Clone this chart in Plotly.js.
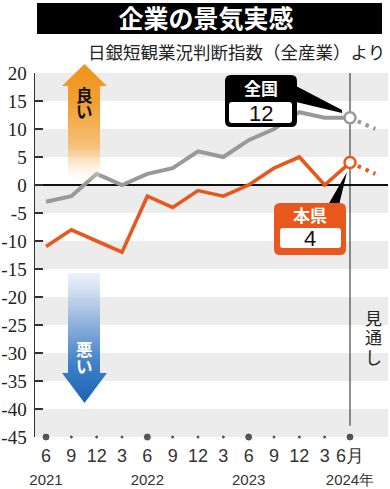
<!DOCTYPE html>
<html>
<head>
<meta charset="utf-8">
<script src="https://cdn.plot.ly/plotly-3.0.1.min.js"></script>
<style>html,body{margin:0;padding:0;background:#fff;}#chart{width:390px;height:489px;}</style>
</head>
<body>
<div id="chart"></div>
<script>
// ---- data ----
const quarters = ["2021-06","2021-09","2021-12","2022-03","2022-06","2022-09","2022-12","2023-03","2023-06","2023-09","2023-12","2024-03","2024-06","2024-09"];
const monthLabels = ["6","9","12","3","6","9","12","3","6","9","12","3","6月"];
const yearLabels = ["2021","","","","2022","","","","2023","","","","2024年"];
const national = [-3,-2,2,0,2,3,6,5,8,10,13,12,12];
const prefecture = [-11,-8,-10,-12,-2,-4,-1,-2,0,3,5,0,4];
const outlookQuarters = ["2024-06","2024-09"];
const nationalOutlook = [12,10];
const prefectureOutlook = [4,2];
const yTicks = [20,15,10,5,0,-5,-10,-15,-20,-25,-30,-35,-40,-45];
const seriesNames = ["全国","本県"];

// ---- layout helpers ----
const W = 390, H = 489;
const M = {l:35, r:2, t:73, b:52};
const PW = W - M.l - M.r, PH = H - M.t - M.b;
const px = x => (x - M.l) / PW;
const py = y => (H - M.b - y) / PH;
function rrect(x0,y0,x1,y1,r){
  const rx = r/PW, ry = r/PH;
  const X0=px(x0),X1=px(x1),Y0=py(y0),Y1=py(y1);
  return `M${X0+rx},${Y0} L${X1-rx},${Y0} Q${X1},${Y0} ${X1},${Y0-ry} L${X1},${Y1+ry} Q${X1},${Y1} ${X1-rx},${Y1} L${X0+rx},${Y1} Q${X0},${Y1} ${X0},${Y1+ry} L${X0},${Y0-ry} Q${X0},${Y0} ${X0+rx},${Y0} Z`;
}
function poly(pts){
  return 'M' + pts.map(p => px(p[0]) + ',' + py(p[1])).join(' L') + ' Z';
}

const GREY = '#999999', ORANGE = '#e8581c';
const yMin = yTicks[yTicks.length-1], yMax = yTicks[0];
const lastIdx = national.length - 1;
const mainQuarters = quarters.slice(0, national.length);

const traces = [
  {x: mainQuarters, y: national, mode:'lines', line:{color:GREY, width:4}, name:seriesNames[0], hoverinfo:'skip'},
  {x: mainQuarters, y: prefecture, mode:'lines', line:{color:ORANGE, width:3.6}, name:seriesNames[1], hoverinfo:'skip'},
  {x: outlookQuarters, y: nationalOutlook, mode:'lines', line:{color:GREY, width:4, dash:'3.5px,5px'}, hoverinfo:'skip'},
  {x: outlookQuarters, y: prefectureOutlook, mode:'lines', line:{color:ORANGE, width:4, dash:'3.5px,5px'}, hoverinfo:'skip'},
  {x: [mainQuarters[lastIdx]], y: [national[lastIdx]], mode:'markers', marker:{size:11, color:'#fff', line:{color:GREY, width:2.5}}, hoverinfo:'skip'},
  {x: [mainQuarters[lastIdx]], y: [prefecture[lastIdx]], mode:'markers', marker:{size:11, color:'#fff', line:{color:ORANGE, width:2.5}}, hoverinfo:'skip'},
  {x: mainQuarters, y: mainQuarters.map(() => yMin), mode:'markers', cliponaxis:false,
   marker:{color:'#111', size: mainQuarters.map(q => q.endsWith('-06') ? 8 : 4)}, hoverinfo:'skip'}
];

const shapes = [];
// alternating bands
for (let i = 0; i < yTicks.length - 1; i += 2) {
  shapes.push({type:'rect', xref:'paper', yref:'y', x0:0, x1:1, y0:yTicks[i], y1:yTicks[i+1], fillcolor:'#ececec', line:{width:0}, layer:'below'});
}
// outlook divider
shapes.push({type:'line', xref:'x', yref:'y', x0:mainQuarters[lastIdx], x1:mainQuarters[lastIdx], y0:yMax, y1:-43, line:{color:'#444', width:1.2}, layer:'below'});
// title box
shapes.push({type:'rect', xref:'paper', yref:'paper', x0:px(37), x1:px(382), y0:py(3), y1:py(34), fillcolor:'#000', line:{width:0}});
// national callout
shapes.push({type:'path', xref:'paper', yref:'paper', path:poly([[296,86],[296,102],[342,113],[342,110]]), fillcolor:'#000', line:{width:0}, layer:'above'});
shapes.push({type:'path', xref:'paper', yref:'paper', path:rrect(225,75,297,127,6), fillcolor:'#000', line:{width:0}, layer:'above'});
shapes.push({type:'path', xref:'paper', yref:'paper', path:rrect(229,102,292,123,3), fillcolor:'#fff', line:{width:0}, layer:'above'});
// prefecture callout
shapes.push({type:'path', xref:'paper', yref:'paper', path:poly([[328,205],[339,205],[347,172]]), fillcolor:'#000', line:{width:0}, layer:'above'});
shapes.push({type:'path', xref:'paper', yref:'paper', path:rrect(274,203,346,255,6), fillcolor:ORANGE, line:{width:0}, layer:'above'});
shapes.push({type:'path', xref:'paper', yref:'paper', path:rrect(280,228,341,248,3), fillcolor:'#fff', line:{width:0}, layer:'above'});

const JP = '"Noto Sans CJK JP", "Noto Sans", sans-serif';
const ann = (x, y, text, font, extra) => Object.assign({xref:'paper', yref:'paper', x:px(x), y:py(y), text, showarrow:false, font, xanchor:'center', yanchor:'middle'}, extra || {});
const annotations = [
  ann(387, 51, '日銀短観業況判断指数（全産業）より', {family:JP, size:17.5, color:'#222'}, {xanchor:'right'}),
  ann(261, 88, seriesNames[0], {family:JP, size:17, color:'#fff', weight:'bold'}),
  ann(261, 113, String(national[lastIdx]), {family:'Liberation Sans, Arial, sans-serif', size:22, color:'#111'}),
  ann(310, 215, seriesNames[1], {family:JP, size:17, color:'#fff', weight:'bold'}),
  ann(310, 238, String(prefecture[lastIdx]), {family:'Liberation Sans, Arial, sans-serif', size:22, color:'#111'})
];
// vertical texts, one character per annotation
function vtext(chars, x, y0, step, font){
  chars.split('').forEach((c, i) => annotations.push(ann(x, y0 + i*step, c, font)));
}
vtext('良い', 84, 95, 16.5, {family:JP, size:16.5, color:'#111', weight:'bold'});
vtext('悪い', 84, 349, 17, {family:JP, size:16.5, color:'#fff', weight:'bold'});
vtext('見通し', 373, 317, 19.5, {family:JP, size:17, color:'#222'});

const upSvg = `<svg xmlns='http://www.w3.org/2000/svg' width='45' height='116' viewBox='0 0 45 116'><defs><linearGradient id='g' x1='0' y1='0' x2='0' y2='1'><stop offset='0' stop-color='#f0921a'/><stop offset='0.35' stop-color='#f2a033'/><stop offset='0.72' stop-color='#f7c27e'/><stop offset='1' stop-color='#fff4e8' stop-opacity='0.15'/></linearGradient></defs><path d='M22.5 0 L45 22 L38 22 L38 116 L6 116 L6 22 L0 22 Z' fill='url(#g)'/></svg>`;
const downSvg = `<svg xmlns='http://www.w3.org/2000/svg' width='45' height='130' viewBox='0 0 45 130'><defs><linearGradient id='g' x1='0' y1='0' x2='0' y2='1'><stop offset='0' stop-color='#e6ecf6' stop-opacity='0.7'/><stop offset='0.35' stop-color='#9ab8df'/><stop offset='0.7' stop-color='#3f80c8'/><stop offset='1' stop-color='#1a63b2'/></linearGradient></defs><path d='M6 0 L38 0 L38 100 L45 100 L22.5 130 L0 100 L6 100 Z' fill='url(#g)'/></svg>`;
const svgUri = s => 'data:image/svg+xml;charset=utf-8,' + encodeURIComponent(s);
const images = [
  {source:svgUri(upSvg), xref:'paper', yref:'paper', x:px(62), y:py(64), sizex:45/PW, sizey:116/PH, xanchor:'left', yanchor:'top', sizing:'stretch', layer:'above'},
  {source:svgUri(downSvg), xref:'paper', yref:'paper', x:px(62), y:py(273), sizex:45/PW, sizey:130/PH, xanchor:'left', yanchor:'top', sizing:'stretch', layer:'above'}
];

const layout = {
  width:W, height:H, margin:M, paper_bgcolor:'#fff', plot_bgcolor:'#fff', showlegend:false,
  title:{text:'企業の景気実感', x:206/W, xanchor:'center', xref:'container', y:1-19/H, yanchor:'middle', yref:'container',
         font:{family:JP, size:25, color:'#fff', weight:'bold'}},
  xaxis:{type:'category', categoryorder:'array', categoryarray:quarters, range:[-0.435, 13.5],
         showgrid:false, zeroline:false, showline:false, ticks:'', tickangle:0,
         tickvals:mainQuarters,
         ticktext:mainQuarters.map((q,i) => monthLabels[i] + '<br><span style="font-size:15px">' + (yearLabels[i] || ' ') + '</span>'),
         tickfont:{family:'Liberation Sans, Arial, sans-serif', size:18, color:'#333'}, ticklabelstandoff:6, fixedrange:true},
  yaxis:{range:[yMin, yMax], tickvals:yTicks, ticktext:yTicks.map(v => String(v)),
         showgrid:false, zeroline:true, zerolinecolor:'#111', zerolinewidth:2,
         showline:true, linecolor:'#333', linewidth:1.5, ticks:'inside', ticklen:8, tickwidth:1.5, tickcolor:'#333',
         tickfont:{family:'Liberation Serif, Times New Roman, serif', size:19, color:'#222'}, ticklabelstandoff:3, fixedrange:true},
  shapes, annotations, images
};

Plotly.newPlot('chart', traces, layout, {displayModeBar:false, staticPlot:true});
</script>
</body>
</html>
